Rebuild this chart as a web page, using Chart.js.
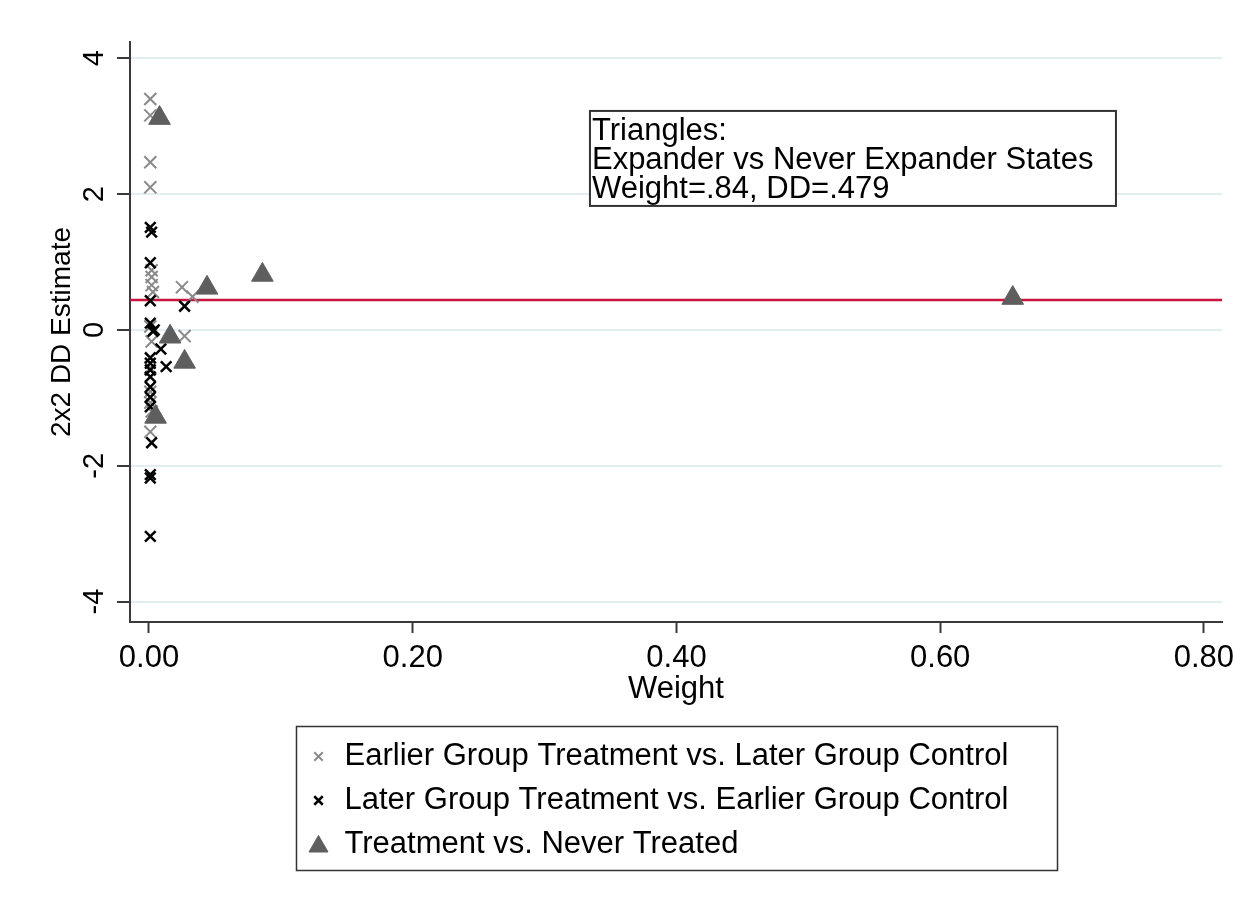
<!DOCTYPE html>
<html>
<head>
<meta charset="utf-8">
<title>2x2 DD estimates vs weight</title>
<script src="https://cdn.jsdelivr.net/npm/chart.js@4.4.1/dist/chart.umd.min.js"></script>
<style>
    html, body { margin: 0; padding: 0; background: #fff; }
    #wrap { width: 1252px; height: 912px; }
</style>
</head>
<body>
<div id="wrap"><canvas id="ddChart"></canvas></div>
<script>
// weights (x) and 2x2 DD estimates (y)
let earlierWeight = [0.001, 0.001, 0.001, 0.001, 0.002, 0.002, 0.002, 0.003, 0.025, 0.033, 0.001, 0.027, 0.002, 0.001, 0.001, 0.002, 0.001, 0.001];
let earlierDD = [3.40, 3.16, 2.47, 2.10, 0.88, 0.78, 0.66, 0.56, 0.63, 0.49, 0.05, -0.09, -0.17, -0.56, -0.91, -1.20, -1.07, -1.50];

let laterWeight = [0.001, 0.002, 0.001, 0.001, 0.027, 0.001, 0.004, 0.009, 0.001, 0.013, 0.001, 0.001, 0.001, 0.001, 0.001, 0.002, 0.001, 0.001, 0.001, 0.001, 0.003];
let laterDD = [1.51, 1.44, 0.99, 0.43, 0.35, 0.10, 0.00, -0.28, -0.41, -0.54, -0.59, -0.69, -0.84, -0.99, -1.13, -1.66, -2.13, -2.18, -3.04, -0.49, -0.02];

let neverWeight = [0.008, 0.086, 0.044, 0.016, 0.027, 0.005, 0.655];
let neverDD = [3.12, 0.81, 0.62, -0.10, -0.47, -1.28, 0.47];

let overallDD = 0.44;

let xTicks = [0, 0.2, 0.4, 0.6, 0.8];
let yTicks = [-4, -2, 0, 2, 4];
let xRange = [-0.0144, 0.8137];
let yRange = [-4.3, 4.24];

let seriesNames = [
    "Earlier Group Treatment vs. Later Group Control",
    "Later Group Treatment vs. Earlier Group Control",
    "Treatment vs. Never Treated"
];
let noteLines = ["Triangles:", "Expander vs Never Expander States", "Weight=.84, DD=.479"];
let noteAnchor = { x: 0.3344, y: 3.225 };

const FONT = "'Liberation Sans', Arial, sans-serif";
const GRAY = "#8a8a8a";
const TRI = "#5e5e5e";
const AXIS = "#3a3a3a";

function toPoints(xs, ys) {
    return xs.map((x, i) => ({ x: x, y: ys[i] }));
}

// markers for the hand-drawn legend, same order as seriesNames
let legendMarks = [
    { pointStyle: "crossRot", radius: 6, borderWidth: 2, color: GRAY },
    { pointStyle: "crossRot", radius: 6, borderWidth: 2.5, color: "#000" },
    { pointStyle: "triangle", radius: 11, borderWidth: 1, color: TRI }
];

const notePlugin = {
    id: "noteBox",
    afterDraw(chart) {
        let ctx = chart.ctx;
        let left = chart.scales.x.getPixelForValue(noteAnchor.x);
        let top = chart.scales.y.getPixelForValue(noteAnchor.y);
        ctx.save();
        ctx.fillStyle = "#fff";
        ctx.fillRect(left, top, 526, 95);
        ctx.strokeStyle = "#333";
        ctx.lineWidth = 2;
        ctx.strokeRect(left, top, 526, 95);
        ctx.fillStyle = "#000";
        ctx.font = "31px " + FONT;
        ctx.textBaseline = "alphabetic";
        noteLines.forEach(function (line, i) {
            ctx.fillText(line, left + 2, top + 29 + i * 29);
        });
        ctx.restore();
    }
};

const legendPlugin = {
    id: "boxLegend",
    afterDraw(chart) {
        let ctx = chart.ctx;
        let area = chart.chartArea;
        let w = 761, h = 144;
        let left = Math.round((area.left + area.right) / 2 - w / 2) + 0.5;
        let top = 726.5;
        ctx.save();
        ctx.strokeStyle = "#333";
        ctx.lineWidth = 1.5;
        ctx.strokeRect(left, top, w, h);
        ctx.font = "31px " + FONT;
        ctx.textBaseline = "middle";
        seriesNames.forEach(function (name, i) {
            let y = top + 30 + i * 44;
            let m = legendMarks[i];
            ctx.fillStyle = m.color;
            ctx.strokeStyle = m.color;
            ctx.lineWidth = m.borderWidth;
            Chart.helpers.drawPoint(ctx, { pointStyle: m.pointStyle, rotation: 0, radius: m.radius, borderWidth: m.borderWidth }, left + 22, y + (m.pointStyle === "triangle" ? 2 : 0));
            ctx.fillStyle = "#000";
            ctx.fillText(name, left + 48, y);
        });
        ctx.restore();
    }
};

new Chart("ddChart", {
    type: "scatter",
    data: {
        datasets: [{
            label: seriesNames[2],
            data: toPoints(neverWeight, neverDD),
            pointStyle: "triangle",
            pointRadius: 12.5,
            backgroundColor: TRI,
            borderColor: TRI,
            borderWidth: 1,
            order: 0
        }, {
            label: seriesNames[1],
            data: toPoints(laterWeight, laterDD),
            pointStyle: "crossRot",
            pointRadius: 7.5,
            borderColor: "#000",
            borderWidth: 2.5,
            order: 1
        }, {
            label: seriesNames[0],
            data: toPoints(earlierWeight, earlierDD),
            pointStyle: "crossRot",
            pointRadius: 8.5,
            borderColor: GRAY,
            borderWidth: 2,
            order: 2
        }, {
            type: "line",
            label: "overall",
            data: [{ x: xRange[0], y: overallDD }, { x: xRange[1], y: overallDD }],
            borderColor: "#c8143f",
            borderWidth: 2.5,
            pointRadius: 0,
            order: 3
        }]
    },
    options: {
        responsive: true,
        maintainAspectRatio: false,
        animation: false,
        layout: { padding: { top: 42, right: 30, left: 0, bottom: 200 } },
        plugins: {
            legend: { display: false },
            tooltip: { enabled: false }
        },
        scales: {
            x: {
                type: "linear",
                min: xRange[0],
                max: xRange[1],
                afterBuildTicks: function (scale) {
                    scale.ticks = xTicks.map(v => ({ value: v }));
                },
                afterFit: function (scale) { scale.height = 90; },
                ticks: {
                    font: { size: 31, family: FONT },
                    color: "#000",
                    padding: 7,
                    maxRotation: 0,
                    callback: v => v.toFixed(2)
                },
                grid: { drawOnChartArea: false, drawTicks: true, tickLength: 11, tickColor: AXIS, tickWidth: 2 },
                border: { color: AXIS, width: 2 },
                title: {
                    display: true,
                    text: "Weight",
                    font: { size: 31, family: FONT },
                    color: "#000",
                    padding: { top: 0, bottom: 4 }
                }
            },
            y: {
                type: "linear",
                min: yRange[0],
                max: yRange[1],
                afterBuildTicks: function (scale) {
                    scale.ticks = yTicks.map(v => ({ value: v }));
                },
                afterFit: function (scale) { scale.width = 130; },
                ticks: {
                    font: { size: 29, family: FONT },
                    color: "#000",
                    padding: 9,
                    minRotation: 90,
                    maxRotation: 90,
                    crossAlign: "center",
                    callback: v => String(v)
                },
                grid: { color: "#e4eef0", lineWidth: 2, drawTicks: true, tickLength: 13, tickColor: AXIS, tickWidth: 2 },
                border: { color: AXIS, width: 2 },
                title: {
                    display: true,
                    text: "2x2 DD Estimate",
                    font: { size: 28, family: FONT },
                    color: "#000",
                    padding: { top: 45, bottom: 0 }
                }
            }
        }
    },
    plugins: [notePlugin, legendPlugin]
});
</script>
</body>
</html>
